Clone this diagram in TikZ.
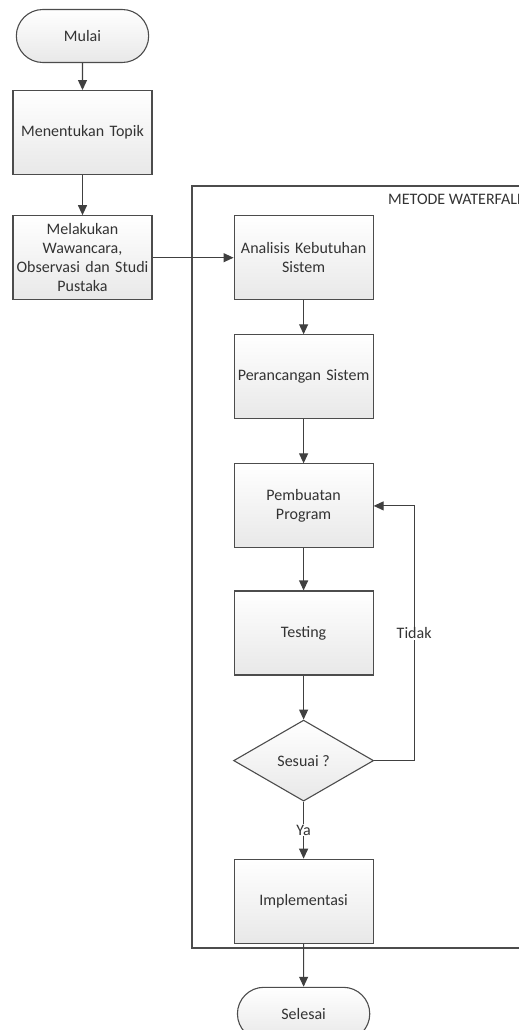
\documentclass[tikz,border=0pt]{standalone}
\usepackage{fontspec}
\setmainfont{Carlito}
\usetikzlibrary{arrows.meta,positioning,shapes.geometric,shapes.misc,calc}

\tikzset{
  kotak/.style={draw=black!70, line width=1.1pt, top color=white, bottom color=black!9,
    align=center, text=black!80, font=\fontsize{16}{19}\selectfont},
  proses/.style={kotak, rectangle, minimum width=139pt, minimum height=84pt, text width=138pt, inner xsep=0.5pt},
  terminal/.style={kotak, rounded rectangle, minimum width=139pt, minimum height=53pt},
  keputusan/.style={kotak, diamond, minimum width=140pt, minimum height=81pt, inner sep=0pt},
  panah/.style={draw=black!75, line width=1.1pt, -{Triangle[length=10pt,width=9pt]}},
  label/.style={fill=white, inner sep=1pt, text=black!80, font=\fontsize{16}{19}\selectfont},
}

\begin{document}
\begin{tikzpicture}[x=1pt,y=-1pt]
  \useasboundingbox (0,0) rectangle (519,1030);

  % bingkai metode waterfall
  \draw[draw=black!70, line width=1.1pt] (192,186) rectangle (560,948);
  \node[label, fill=none, anchor=base west] (judul) at (387,204) {METODE WATERFALL};

  % langkah awal
  \node[terminal] (mulai) at (82.5,36) {Mulai};
  \node[proses] [below=27pt of mulai] (topik) {Menentukan Topik};
  \node[proses] [below=40pt of topik] (studi) {Melakukan\\Wawancara,\\Observasi dan Studi\\Pustaka};

  % tahapan waterfall
  \node[proses] [right=81pt of studi] (analisis) {Analisis Kebutuhan\\Sistem};
  \node[proses] [below=34pt of analisis] (rancang) {Perancangan Sistem};
  \node[proses] [below=44pt of rancang] (buat) {Pembuatan\\Program};
  \node[proses] [below=42pt of buat] (testing) {Testing};
  \node[keputusan] [below=44pt of testing] (sesuai) {Sesuai ?};
  \node[proses] [below=57pt of sesuai] (impl) {Implementasi};
  \node[terminal] [below=43pt of impl] (selesai) {Selesai};

  \draw[panah] (mulai) -- (topik);
  \draw[panah] (topik) -- (studi);
  \draw[panah] (studi) -- (analisis);
  \draw[panah] (analisis) -- (rancang);
  \draw[panah] (rancang) -- (buat);
  \draw[panah] (buat) -- (testing);
  \draw[panah] (testing) -- (sesuai);
  \draw[panah] (sesuai) -- node[label, pos=0.5] {Ya} (impl);
  \draw[panah] (impl) -- (selesai);
  \draw[panah] (sesuai.east) -- ++(40,0) |- node[label, pos=0.25] {Tidak} (buat.east);
\end{tikzpicture}
\end{document}
